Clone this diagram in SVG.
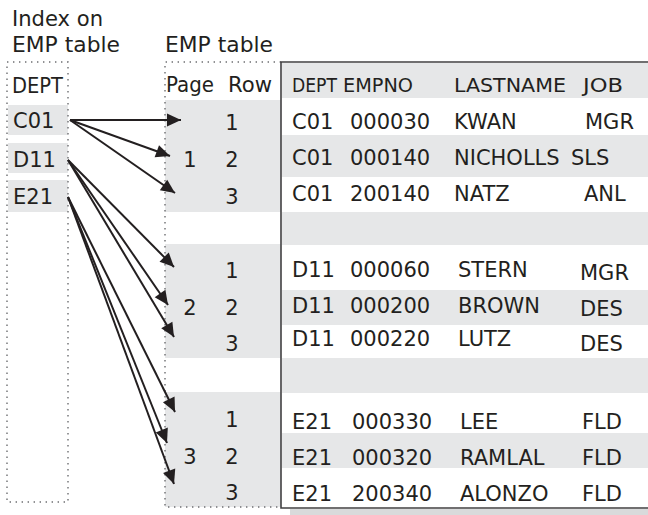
<svg xmlns="http://www.w3.org/2000/svg" width="648" height="515" viewBox="0 0 648 515">
  <defs>
    <style>
      text { font-family: "DejaVu Sans", "Liberation Sans", sans-serif; font-size: 21px; fill: #231f20; }
      .mid { text-anchor: middle; }
      .head { font-size: 20px; }
      .band { fill: #e6e7e8; }
      .dots { fill: none; stroke: #6d6e71; stroke-width: 1.4; stroke-dasharray: 1.4 4.6; }
      .frame { fill: none; stroke: #414042; stroke-width: 1.6; }
      .link { fill: none; stroke: #231f20; stroke-width: 2; marker-end: url(#head); }
    </style>
    <marker id="head" markerUnits="userSpaceOnUse" markerWidth="15" markerHeight="13" refX="14" refY="6.5" orient="auto" overflow="visible">
      <path d="M0,0 L14,6.5 L0,13 Z" fill="#231f20"/>
    </marker>
  </defs>

  <rect width="648" height="515" fill="#ffffff"/>

  <!-- captions -->
  <text x="12" y="26" textLength="91" lengthAdjust="spacingAndGlyphs">Index on</text>
  <text x="12" y="52" textLength="108" lengthAdjust="spacingAndGlyphs">EMP table</text>
  <text x="165" y="52" textLength="108" lengthAdjust="spacingAndGlyphs">EMP table</text>

  <!-- index on EMP table -->
  <g id="index">
    <rect class="band" x="8" y="105" width="60" height="30"/>
    <rect class="band" x="8" y="143" width="60" height="30"/>
    <rect class="band" x="8" y="180" width="60" height="32"/>
    <path class="dots" d="M7,62 H68 V502 H7 Z"/>
    <text x="12" y="93" textLength="51" lengthAdjust="spacingAndGlyphs">DEPT</text>
    <text x="13" y="128">C01</text>
    <text x="13" y="167">D11</text>
    <text x="13" y="204">E21</text>
  </g>

  <!-- page / row locator column -->
  <g id="page-row">
    <rect class="band" x="165" y="100" width="116" height="112"/>
    <rect class="band" x="165" y="244" width="116" height="114"/>
    <rect class="band" x="165" y="392" width="116" height="115"/>
    <path class="dots" d="M281,62 H165 V507 H281"/>
    <text x="166" y="92" textLength="48" lengthAdjust="spacingAndGlyphs">Page</text>
    <text x="228" y="92" textLength="44" lengthAdjust="spacingAndGlyphs">Row</text>
    <text class="mid" x="232" y="130">1</text>
    <text class="mid" x="190" y="167">1</text>
    <text class="mid" x="232" y="167">2</text>
    <text class="mid" x="232" y="204">3</text>
    <text class="mid" x="232" y="278">1</text>
    <text class="mid" x="190" y="315">2</text>
    <text class="mid" x="232" y="315">2</text>
    <text class="mid" x="232" y="351">3</text>
    <text class="mid" x="232" y="427">1</text>
    <text class="mid" x="190" y="464">3</text>
    <text class="mid" x="232" y="464">2</text>
    <text class="mid" x="232" y="500">3</text>
  </g>

  <!-- EMP table rows -->
  <g id="emp-table">
    <rect x="290" y="509" width="358" height="6" fill="#d9dadb"/>
    <rect class="band" x="282" y="63" width="366" height="35"/>
    <rect class="band" x="282" y="135" width="366" height="42"/>
    <rect class="band" x="282" y="212" width="366" height="33"/>
    <rect class="band" x="282" y="290" width="366" height="35"/>
    <rect class="band" x="282" y="358" width="366" height="35"/>
    <rect class="band" x="282" y="433" width="366" height="35"/>
    <path class="frame" d="M650,62 H281 V508 H650"/>

    <text class="head" x="292" y="92" textLength="45" lengthAdjust="spacingAndGlyphs">DEPT</text>
    <text class="head" x="343" y="92" textLength="70" lengthAdjust="spacingAndGlyphs">EMPNO</text>
    <text class="head" x="454" y="92" textLength="112" lengthAdjust="spacingAndGlyphs">LASTNAME</text>
    <text class="head" x="583" y="92" textLength="40" lengthAdjust="spacingAndGlyphs">JOB</text>

    <text x="292" y="129">C01</text><text x="350" y="129">000030</text><text x="454" y="129">KWAN</text><text x="585" y="129">MGR</text>
    <text x="292" y="165">C01</text><text x="350" y="165">000140</text><text x="454" y="165">NICHOLLS</text><text x="571" y="165">SLS</text>
    <text x="292" y="201">C01</text><text x="350" y="201">200140</text><text x="454" y="201">NATZ</text><text x="584" y="201">ANL</text>

    <text x="292" y="277">D11</text><text x="350" y="277">000060</text><text x="458" y="277">STERN</text><text x="580" y="280">MGR</text>
    <text x="292" y="313">D11</text><text x="350" y="313">000200</text><text x="458" y="313">BROWN</text><text x="580" y="316">DES</text>
    <text x="292" y="346">D11</text><text x="350" y="346">000220</text><text x="458" y="346">LUTZ</text><text x="580" y="351">DES</text>

    <text x="292" y="429">E21</text><text x="352" y="429">000330</text><text x="460" y="429">LEE</text><text x="582" y="429">FLD</text>
    <text x="292" y="465">E21</text><text x="352" y="465">000320</text><text x="460" y="465">RAMLAL</text><text x="582" y="465">FLD</text>
    <text x="292" y="501">E21</text><text x="352" y="501">200340</text><text x="460" y="501">ALONZO</text><text x="582" y="501">FLD</text>
  </g>

  <!-- index entries pointing at their rows -->
  <g id="connectors">
    <line class="link" x1="70" y1="120" x2="181" y2="120"/>
    <line class="link" x1="70" y1="120" x2="170" y2="156"/>
    <line class="link" x1="70" y1="120" x2="175" y2="193"/>
    <line class="link" x1="68" y1="160" x2="174" y2="267"/>
    <line class="link" x1="68" y1="160" x2="168" y2="305"/>
    <line class="link" x1="68" y1="160" x2="174" y2="337"/>
    <line class="link" x1="68" y1="197" x2="175" y2="412"/>
    <line class="link" x1="68" y1="197" x2="167" y2="443"/>
    <line class="link" x1="68" y1="197" x2="174" y2="484"/>
  </g>
</svg>
